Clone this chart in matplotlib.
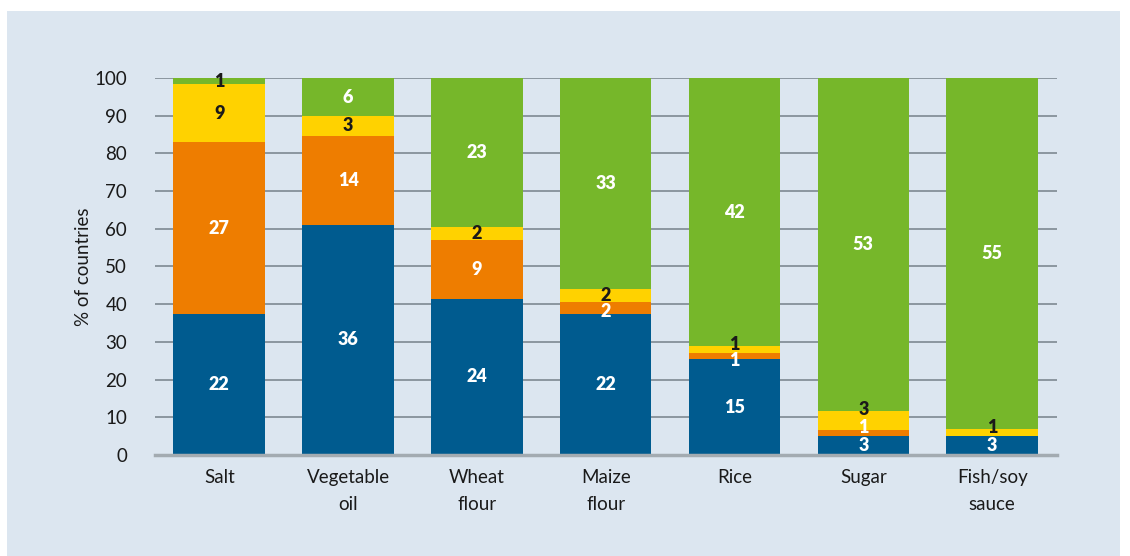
import matplotlib
matplotlib.use("Agg")
import matplotlib.pyplot as plt
from matplotlib.patches import Rectangle
import numpy as np

# number of countries per category
categories = ["Salt", "Vegetable\noil", "Wheat\nflour", "Maize\nflour", "Rice", "Sugar", "Fish/soy\nsauce"]
blue_counts = [22, 36, 24, 22, 15, 3, 3]
orange_counts = [27, 14, 9, 2, 1, 1, 0]
yellow_counts = [9, 3, 2, 2, 1, 3, 1]
green_counts = [1, 6, 23, 33, 42, 53, 55]

colors = ["#005b8f", "#ee7d00", "#ffd200", "#76b72a"]
label_colors = ["white", "white", "#1a1a1a", "white"]
panel_color = "#dce6f0"

plt.rcParams['font.family'] = ['Lato', 'DejaVu Sans']

counts = np.array([blue_counts, orange_counts, yellow_counts, green_counts], dtype=float)
totals = counts.sum(axis=0)
pct = counts / totals * 100

fig = plt.figure(figsize=(11.3, 5.56), dpi=100)
fig.patches.append(Rectangle((0.0062, 0.0), 0.985, 0.980, transform=fig.transFigure,
                             facecolor=panel_color, edgecolor="none", zorder=-10))
ax = fig.add_axes([0.137, 0.1817, 0.798, 0.678])
ax.set_facecolor("none")

x = np.arange(len(categories))
width = 0.71
bottom = np.zeros(len(categories))
for i in range(4):
    ax.bar(x, pct[i], width, bottom=bottom, color=colors[i], zorder=3)
    for j in range(len(categories)):
        n = int(counts[i, j])
        if n == 0:
            continue
        h = pct[i, j]
        y = bottom[j] + h / 2
        col = label_colors[i]
        # small segments: shift labels so they don't collide
        if i == 2 and pct[1, j] < 3:
            y = bottom[j] + h + 0.4
        elif i == 1 and h < 2 and pct[0, j] < 6:
            y = bottom[j] + h / 2 + 1.4
        elif i == 1 and h < 2:
            y = bottom[j] + h / 2 - 1.2
        elif i == 1 and h < 4:
            y = bottom[j] + h / 2 - 0.8
        elif i == 3 and h < 3:
            col = "#1a1a1a"
        ax.text(x[j], y, str(n), ha="center", va="center", fontsize=13,
                fontweight="heavy", color=col, zorder=4)
    bottom += pct[i]

ax.set_xlim(-0.5, 6.5)
ax.set_ylim(0, 100)
ax.set_yticks(range(0, 101, 10))
ax.yaxis.grid(True, color="#76818a", linewidth=1.1)
ax.set_axisbelow(True)
for s in ["top", "right", "left"]:
    ax.spines[s].set_visible(False)
ax.spines["bottom"].set_color("#a3abb1")
ax.spines["bottom"].set_linewidth(2.5)
ax.spines["bottom"].set_zorder(5)
ax.tick_params(axis="both", length=0, labelsize=13.5, colors="#1a1a1a")
ax.tick_params(axis="y", pad=20)
ax.tick_params(axis="x", pad=10)
ax.set_xticks(x)
ax.set_xticklabels(categories, fontsize=13.5, linespacing=1.75)
ax.set_ylabel("% of countries", fontsize=13.5, color="#1a1a1a", labelpad=2)

fig.savefig("out.png", dpi=100, facecolor="white")
